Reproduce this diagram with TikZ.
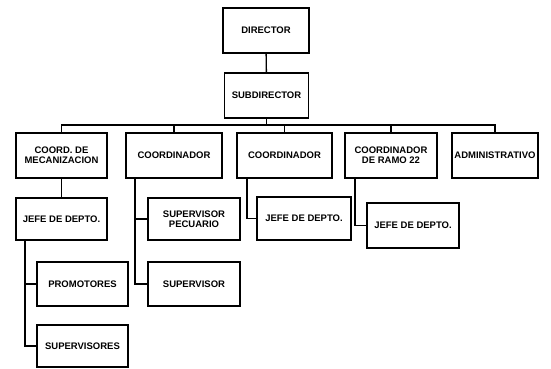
\documentclass[tikz,border=0pt]{standalone}
\usepackage{fontspec}
\setmainfont{Liberation Sans}
\begin{document}
\begin{tikzpicture}[x=1pt,y=-1pt,line width=1.4pt,
	caja/.style={draw,rectangle,inner sep=1pt,minimum height=45pt,align=center,
		font=\fontsize{9.5}{10}\selectfont\bfseries}]
	\useasboundingbox (0,0) rectangle (551,369);
	
	%direccion
	\node[caja,minimum width=86pt] (director) at (266,30.5) {DIRECTOR};
	\node[caja,minimum width=84pt] (subdir) at (266.5,95.5) {SUBDIRECTOR};
	\draw (director) -- (subdir);
	
	%coordinaciones
	\node[caja,minimum width=91pt] (mec) at (61.5,155.5) {COORD. DE\\MECANIZACION};
	\node[caja,minimum width=96pt] (coord1) at (174,155.5) {COORDINADOR};
	\node[caja,minimum width=95pt] (coord2) at (284.5,155.5) {COORDINADOR};
	\node[caja,minimum width=92pt] (ramo) at (391,155.5) {COORDINADOR\\DE RAMO 22};
	\node[caja,minimum width=86pt] (admin) at (495,155.5) {ADMINISTRATIVO};
	
	\coordinate (bus) at (0,125);
	\draw (subdir) -- (subdir |- bus);
	\draw (mec.north) -- (mec.north |- bus) -- (admin.north |- bus) -- (admin.north);
	\foreach \n in {coord1,coord2,ramo}
		\draw (\n.north) -- (\n.north |- bus);
	
	%jefaturas y supervisores
	\node[caja,minimum width=91pt,minimum height=42pt] (jefe1) at (61.5,219) {JEFE DE DEPTO.};
	\node[caja,minimum width=92pt,minimum height=42pt] (suppec) at (194,219) {SUPERVISOR\\PECUARIO};
	\node[caja,minimum width=94pt,minimum height=43pt] (jefe2) at (304,218.5) {JEFE DE DEPTO.};
	\node[caja,minimum width=92pt] (jefe3) at (413,225.5) {JEFE DE DEPTO.};
	\node[caja,minimum width=92pt,minimum height=44pt] (sup) at (194,284) {SUPERVISOR};
	\node[caja,minimum width=91pt,minimum height=44pt] (prom) at (82.5,284) {PROMOTORES};
	\node[caja,minimum width=91pt,minimum height=42pt] (supes) at (82.5,346) {SUPERVISORES};
	
	\draw (mec) -- (jefe1);
	\coordinate (c1) at (135,178);
	\draw (c1) |- (suppec.west);
	\draw (c1) |- (sup.west);
	\coordinate (c2) at (247,178);
	\draw (c2) |- (jefe2.west);
	\coordinate (c3) at (355,178);
	\draw (c3) |- (jefe3.west);
	\coordinate (j1) at (25,240);
	\draw (j1) |- (prom.west);
	\draw (j1) |- (supes.west);
\end{tikzpicture}
\end{document}
